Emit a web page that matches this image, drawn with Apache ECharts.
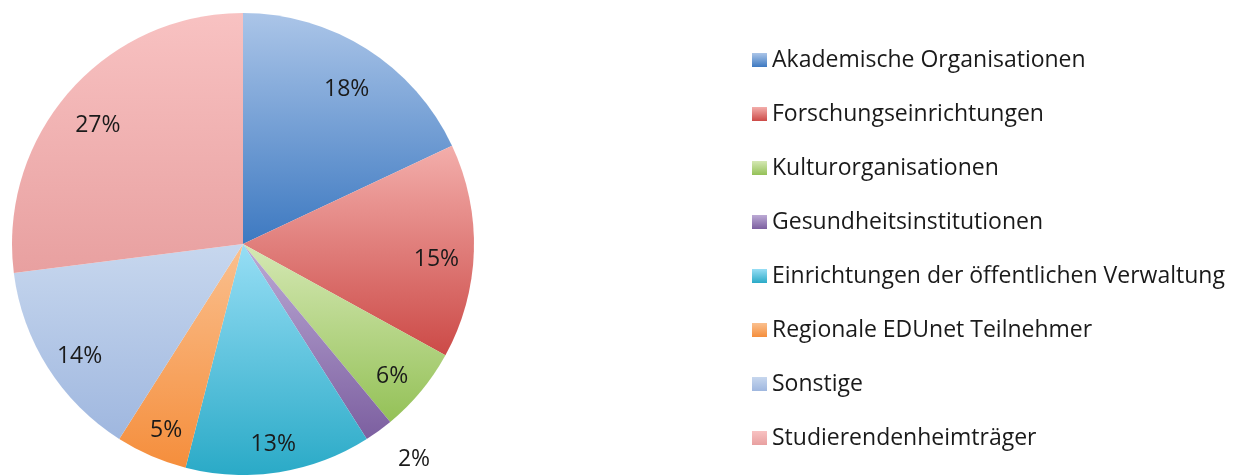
<!DOCTYPE html>
<html>
<head>
<meta charset="utf-8">
<script src="https://cdn.jsdelivr.net/npm/echarts@6/dist/echarts.min.js"></script>
<style>
  html, body { margin: 0; padding: 0; background: #fff; }
  #chart { width: 1237px; height: 475px; }
</style>
</head>
<body>
<div id="chart"></div>
<script>
// Kategorien und Anteile (in Prozent)
const categories = [
  'Akademische Organisationen',
  'Forschungseinrichtungen',
  'Kulturorganisationen',
  'Gesundheitsinstitutionen',
  'Einrichtungen der öffentlichen Verwaltung',
  'Regionale EDUnet Teilnehmer',
  'Sonstige',
  'Studierendenheimträger'
]
const shares = [18, 15, 6, 2, 13, 5, 14, 27]
// Farbverlauf je Segment: oben hell, unten kräftig
const topColors = ['#abc5e8', '#f3aeab', '#d5e8b4', '#bcaad5', '#97def5', '#fac08f', '#c7d7ee', '#f8c2c2']
const bottomColors = ['#3d79c1', '#cc4a47', '#94c157', '#7c5fa0', '#2aaac7', '#f58e3c', '#9fb7df', '#e8a0a0']
// Segmente, deren Beschriftung außerhalb liegt
const outsideLabels = ['Gesundheitsinstitutionen']

function grad (i) {
  return new echarts.graphic.LinearGradient(0, 0, 0, 1, [
    { offset: 0, color: topColors[i] },
    { offset: 1, color: bottomColors[i] }
  ])
}

const pieData = categories.map(function (name, i) {
  return { name: name, value: shares[i], itemStyle: { color: grad(i) } }
})

const labelData = categories.map(function (name, i) {
  const item = { name: name, value: shares[i] }
  if (outsideLabels.indexOf(name) >= 0) {
    item.label = { position: 'outside' }
    item.labelLine = { show: false, length: 24, length2: 0 }
  }
  return item
})

const chart = echarts.init(document.getElementById('chart'), null, { renderer: 'canvas' })
chart.setOption({
  animation: false,
  legend: {
    orient: 'vertical',
    left: 752,
    top: 48,
    padding: 0,
    itemWidth: 15,
    itemHeight: 14,
    itemGap: 30,
    icon: 'rect',
    data: categories,
    selectedMode: false,
    textStyle: {
      fontFamily: 'Open Sans',
      fontSize: 23,
      lineHeight: 24,
      color: '#1a1a1a'
    }
  },
  series: [
    {
      type: 'pie',
      center: [243, 244],
      radius: [0, 231],
      startAngle: 90,
      clockwise: true,
      data: pieData,
      label: { show: false },
      labelLine: { show: false },
      emphasis: { disabled: true }
    },
    {
      // unsichtbarer Ring nur für die Prozentangaben
      type: 'pie',
      center: [243, 253],
      radius: [150, 231],
      startAngle: 90,
      clockwise: true,
      silent: true,
      data: labelData,
      itemStyle: { color: 'rgba(0,0,0,0)' },
      label: {
        show: true,
        position: 'inside',
        formatter: '{c}%',
        fontFamily: 'Open Sans',
        fontSize: 23,
        color: '#1a1a1a'
      },
      labelLine: { show: false },
      emphasis: { disabled: true }
    }
  ]
})
</script>
</body>
</html>
